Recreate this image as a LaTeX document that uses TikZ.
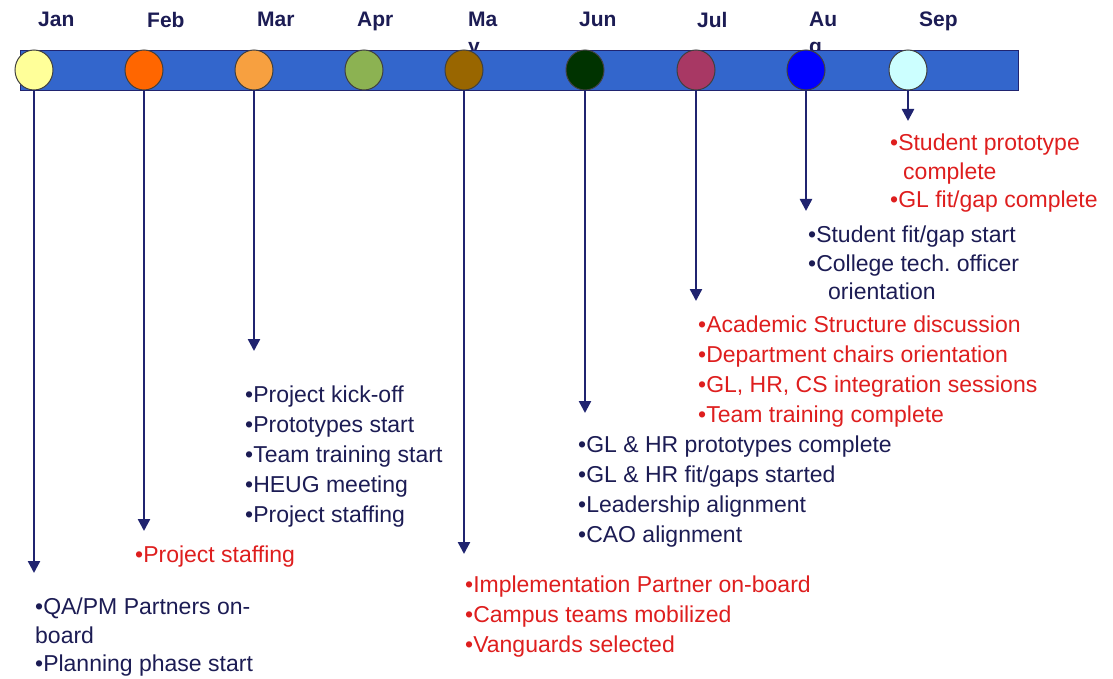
\documentclass[tikz,border=0pt]{standalone}
\usepackage{fontspec}
\setmainfont{Liberation Sans}
\usetikzlibrary{arrows.meta}
\usetikzlibrary{shapes.geometric}
\usepackage{xcolor}
\frenchspacing

\definecolor{barblue}{RGB}{51,102,204}
\definecolor{navyline}{RGB}{32,36,112}
\definecolor{navytext}{RGB}{28,28,84}
\definecolor{notered}{RGB}{222,30,30}
\definecolor{dotJan}{RGB}{255,255,153}
\definecolor{dotFeb}{RGB}{255,102,0}
\definecolor{dotMar}{RGB}{247,160,64}
\definecolor{dotApr}{RGB}{140,178,82}
\definecolor{dotMay}{RGB}{153,102,0}
\definecolor{dotJun}{RGB}{0,51,0}
\definecolor{dotJul}{RGB}{168,56,100}
\definecolor{dotAug}{RGB}{0,0,255}
\definecolor{dotSep}{RGB}{204,255,255}

\begin{document}
\begin{tikzpicture}[x=1pt,y=-1pt,
    month/.style={anchor=north west, align=left, inner sep=0pt, text=navytext,
      font=\bfseries\fontsize{21}{27}\selectfont},
    dot/.style={ellipse, draw=black!75, line width=1pt, minimum width=38pt, minimum height=40pt, inner sep=0pt},
    drop/.style={draw=navyline, line width=2.5pt, -{Triangle[length=12pt,width=12pt]}},
    navynote/.style={anchor=north west, align=left, inner sep=0pt, text=navytext,
      font=\fontsize{23}{30}\selectfont},
    rednote/.style={navynote, text=notered}]
  \useasboundingbox (0,0) rectangle (1113,679);

  % Month labels (drawn first, the bar hides the wrapped letters)
  \foreach \x/\m/\t in {38/Jan/Jan, 147/Feb/Feb, 257/Mar/Mar, 357/Apr/Apr, 468/May/Ma\\y,
                        579/Jun/Jun, 697/Jul/Jul, 809/Aug/Au\\g, 919/Sep/Sep}
  {
    \node[month] (l\m) at (\x,12) {\t};
  }

  % Bar
  \draw[navyline, line width=0.8pt, fill=barblue] (20,50) rectangle (1018,90);

  % Dots
  \foreach \x/\m in {34/Jan, 144/Feb, 254/Mar, 364/Apr, 464/May, 585/Jun, 696/Jul, 806/Aug, 908/Sep}
  {
    \node[dot, fill=dot\m] (d\m) at (\x,70) {};
  }

  % Arrow ends
  \coordinate (tJan) at (34,573);
  \coordinate (tFeb) at (144,531);
  \coordinate (tMar) at (254,351);
  \coordinate (tMay) at (464,554);
  \coordinate (tJun) at (585,413);
  \coordinate (tJul) at (696,301);
  \coordinate (tAug) at (806,211);
  \coordinate (tSep) at (908,121);

  \foreach \m in {Jan,Feb,Mar,May,Jun,Jul,Aug,Sep}
  {
    \draw[drop] (d\m) -- (t\m);
  }

  % Notes
  \node[navynote, font=\fontsize{23}{28.5}\selectfont] (nJan) at (35,598) {•QA/PM Partners on-\\board\\•Planning phase start};
  \node[rednote] (nFeb) at (135,546) {•Project staffing};
  \node[navynote] (nMar) at (245,386) {•Project kick-off\\•Prototypes start\\•Team training start\\•HEUG meeting\\•Project staffing};
  \node[rednote] (nMay) at (465,576) {•Implementation Partner on-board\\•Campus teams mobilized\\•Vanguards selected};
  \node[navynote] (nJun) at (578,436) {•GL \& HR prototypes complete\\•GL \& HR fit/gaps started\\•Leadership alignment\\•CAO alignment};
  \node[rednote] (nJul) at (698,316) {•Academic Structure discussion\\•Department chairs orientation\\•GL, HR, CS integration sessions\\•Team training complete};
  \node[navynote, font=\fontsize{23}{28.5}\selectfont] (nAug) at (808,226) {•Student fit/gap start\\•College tech. officer\\\hspace*{20pt}orientation};
  \node[rednote, font=\fontsize{23}{28.5}\selectfont] (nSep) at (890,134) {•Student prototype\\\hspace*{13pt}complete\\•GL fit/gap complete};

\end{tikzpicture}
\end{document}
